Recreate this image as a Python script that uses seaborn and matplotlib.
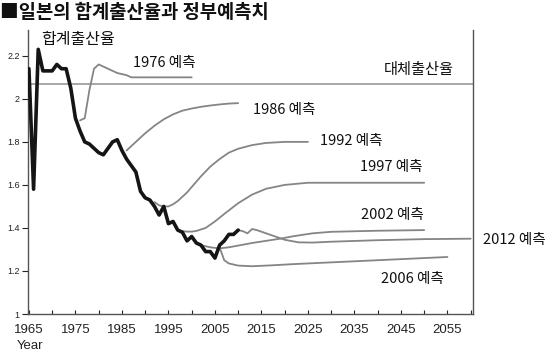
import matplotlib
matplotlib.use("Agg")
import matplotlib.pyplot as plt
import seaborn as sns

# ---------------- data ----------------
actual_years = list(range(1965, 2011))
actual_tfr = [2.14, 1.58, 2.23, 2.13, 2.13, 2.13, 2.16, 2.14, 2.14, 2.05,
              1.91, 1.85, 1.80, 1.79, 1.77, 1.75, 1.74, 1.77, 1.80, 1.81,
              1.76, 1.72, 1.69, 1.66, 1.57, 1.54, 1.53, 1.50, 1.46, 1.50,
              1.42, 1.43, 1.39, 1.38, 1.34, 1.36, 1.33, 1.32, 1.29, 1.29,
              1.26, 1.32, 1.34, 1.37, 1.37, 1.39]

proj_1976_years = [1976, 1977, 1978, 1979, 1980, 1981, 1982, 1983, 1984, 1985, 1986, 1987, 2000]
proj_1976_vals = [1.90, 1.91, 2.04, 2.14, 2.16, 2.15, 2.14, 2.13, 2.12, 2.115, 2.11, 2.10, 2.10]

proj_1986_years = [1986, 1988, 1990, 1992, 1994, 1996, 1998, 2000, 2002, 2004, 2006, 2008, 2010]
proj_1986_vals = [1.76, 1.80, 1.84, 1.875, 1.905, 1.928, 1.945, 1.955, 1.963, 1.969, 1.974, 1.978, 1.98]

proj_1992_years = [1992, 1993, 1994, 1995, 1996, 1997, 1998, 1999, 2000, 2002, 2004,
                   2006, 2008, 2010, 2013, 2016, 2020, 2025]
proj_1992_vals = [1.52, 1.505, 1.50, 1.50, 1.51, 1.525, 1.545, 1.565, 1.59, 1.64, 1.685,
                  1.72, 1.75, 1.768, 1.785, 1.795, 1.80, 1.80]

proj_1997_years = [1997, 1998, 1999, 2000, 2001, 2003, 2005, 2007, 2010, 2013, 2016,
                   2020, 2025, 2030, 2050]
proj_1997_vals = [1.39, 1.385, 1.383, 1.383, 1.386, 1.40, 1.43, 1.465, 1.515, 1.555, 1.582,
                  1.60, 1.61, 1.61, 1.61]

proj_2002_years = [2002, 2004, 2006, 2008, 2010, 2013, 2016, 2019, 2022, 2026, 2030, 2040, 2050]
proj_2002_vals = [1.32, 1.31, 1.305, 1.31, 1.318, 1.33, 1.34, 1.35, 1.362, 1.375, 1.382, 1.387, 1.39]

proj_2006_years = [2006, 2007, 2008, 2010, 2013, 2017, 2022, 2030, 2040, 2050, 2055]
proj_2006_vals = [1.31, 1.25, 1.235, 1.225, 1.222, 1.226, 1.232, 1.24, 1.25, 1.26, 1.265]

proj_2012_years = [2010, 2011, 2012, 2013, 2014, 2016, 2018, 2020, 2023, 2026, 2030, 2040, 2050, 2060]
proj_2012_vals = [1.39, 1.385, 1.375, 1.395, 1.39, 1.375, 1.36, 1.345, 1.333, 1.332, 1.336, 1.343, 1.348, 1.35]

replacement_rate = 2.07

projection_labels = ["1976 예측", "1986 예측", "1992 예측", "1997 예측", "2002 예측", "2006 예측", "2012 예측"]
x_tick_labels = ["1965", "1975", "1985", "1995", "2005", "2015", "2025", "2035", "2045", "2055"]
y_tick_labels = ["1", "1.2", "1.4", "1.6", "1.8", "2", "2.2"]

# ---------------- styling ----------------
sns.set_style("ticks")
plt.rcParams["font.family"] = ["Noto Sans CJK KR", "DejaVu Sans"]

W, H = 550, 358
fig = plt.figure(figsize=(W / 100, H / 100), dpi=100)
ax = fig.add_axes([28 / W, 1 - 314 / H, (473 - 28) / W, (314 - 30) / H])

gray = "#858585"
projections = [
    (proj_1976_years, proj_1976_vals),
    (proj_1986_years, proj_1986_vals),
    (proj_1992_years, proj_1992_vals),
    (proj_1997_years, proj_1997_vals),
    (proj_2002_years, proj_2002_vals),
    (proj_2006_years, proj_2006_vals),
    (proj_2012_years, proj_2012_vals),
]
for yrs, vals in projections:
    sns.lineplot(x=yrs, y=vals, ax=ax, color=gray, linewidth=1.3, zorder=3)

ax.axhline(replacement_rate, color="#8f8f8f", linewidth=1.1, zorder=2)

sns.lineplot(x=actual_years, y=actual_tfr, ax=ax, color="#151515", linewidth=2.6, zorder=5)

ax.set_xlim(1964.8, 2060.5)
ax.set_ylim(1.0, 2.32)

xt = list(range(1965, 2061, 5))
ax.set_xticks(xt)
lab_iter = iter(x_tick_labels)
ax.set_xticklabels([next(lab_iter) if (t - 1965) % 10 == 0 else "" for t in xt],
                   fontsize=9.5, family=["Liberation Sans", "DejaVu Sans"])
ax.set_yticks([1.0, 1.2, 1.4, 1.6, 1.8, 2.0, 2.2])
ax.set_yticklabels(y_tick_labels, fontsize=6.5, family=["Liberation Sans", "DejaVu Sans"])
ax.tick_params(axis="x", direction="in", length=3, width=0.8, pad=7, colors="#222222")
ax.tick_params(axis="y", direction="out", length=4, width=0.8, pad=2, colors="#222222")
ax.set_xlabel("")
ax.set_ylabel("")

ax.spines["top"].set_visible(False)
for s in ["left", "bottom", "right"]:
    ax.spines[s].set_color("#555555")
    ax.spines[s].set_linewidth(1.0)


def px(xp, yp):
    """pixel -> data conversion helper for label placement"""
    return 1965 + (xp - 29) / 4.65, 1 + (314 - yp) / 215


label_pos = [(164, 63), (284, 110), (351, 141), (391, 167), (392, 215), (412, 279), (514, 240)]
for text, (xp, yp) in zip(projection_labels, label_pos):
    dx, dy = px(xp, yp)
    ax.text(dx, dy, text, fontsize=10.5, ha="center", va="center", color="#111111", clip_on=False)

dx, dy = px(419, 70)
ax.text(dx, dy, "대체출산율", fontsize=11, ha="center", va="center", color="#111111")
dx, dy = px(78, 40)
ax.text(dx, dy, "합계출산율", fontsize=11.5, ha="center", va="center", color="#111111")

fig.text(0.0, 1 - 12 / H, "■일본의 합계출산율과 정부예측치", fontsize=13.5, fontweight="bold",
         ha="left", va="center", color="#111111")
fig.text(30 / W, 1 - 346 / H, "Year", fontsize=9.5, ha="center", va="center",
         family=["Liberation Sans", "DejaVu Sans"], color="#222222")

fig.savefig("out.png", dpi=100)
